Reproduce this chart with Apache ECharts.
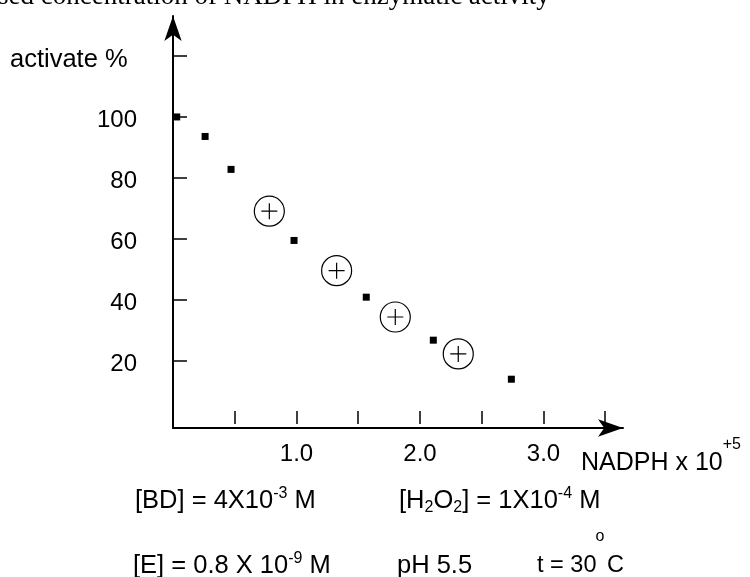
<!DOCTYPE html>
<html>
<head>
<meta charset="utf-8">
<script src="https://cdn.jsdelivr.net/npm/echarts@6.0.0/dist/echarts.min.js"></script>
<style>
html, body { margin: 0; padding: 0; background: #fff; }
#chart { width: 750px; height: 577px; }
</style>
</head>
<body>
<div id="chart"></div>
<script>
// values
let squareX = [0.03, 0.26, 0.47, 0.98, 1.565, 2.108, 2.74]
let squareY = [100, 93.6, 82.8, 59.5, 40.9, 26.8, 14]
let circleX = [0.78, 1.325, 1.80, 2.31]
let circleY = [69.1, 49.6, 34.4, 22.3]
let xTicks = [0.5, 1.0, 1.5, 2.0, 2.5, 3.0, 3.5]
let xLabels = [1.0, 2.0, 3.0]
let yTicks = [20, 40, 60, 80, 100, 120]
let yLabels = [20, 40, 60, 80, 100]

let sans = '"Liberation Sans", Arial, sans-serif'
let serif = '"Liberation Serif", "Times New Roman", serif'
let circlePlus = 'path://M0,15A15,15,0,1,1,30,15A15,15,0,1,1,0,15ZM7,15L23,15M15,7L15,23'

function richStyle(size) {
    return {
        m: { fontSize: size, fontFamily: sans, color: '#000', lineHeight: 30 },
        sup: { fontSize: 16, fontFamily: sans, color: '#000', lineHeight: 16, verticalAlign: 'top' },
        sub: { fontSize: 16, fontFamily: sans, color: '#000', lineHeight: 16, verticalAlign: 'bottom' }
    }
}

function note(x, y, text, size) {
    return {
        type: 'text', x: x, y: y,
        style: { text: text, rich: richStyle(size || 25.5), align: 'left', verticalAlign: 'middle' }
    }
}

let myChart = echarts.init(document.getElementById('chart'))
let option = {
    animation: false,
    backgroundColor: '#fff',
    grid: {
        left: 173,
        right: 127,
        top: 16,
        bottom: 149,
        outerBoundsMode: 'none'
    },
    xAxis: [{
        type: 'value',
        position: 'bottom',
        min: 0,
        max: 3.644,
        splitLine: { show: false },
        axisLine: {
            show: true,
            onZero: false,
            symbol: ['none', 'arrow'],
            symbolSize: [13, 25],
            lineStyle: { color: '#000', width: 2 }
        },
        axisTick: { show: false },
        axisLabel: {
            customValues: xLabels,
            formatter: v => v.toFixed(1),
            margin: 14,
            color: '#000',
            fontSize: 24,
            fontFamily: sans
        }
    }, {
        type: 'value',
        position: 'bottom',
        offset: -4,
        min: 0,
        max: 3.644,
        splitLine: { show: false },
        axisLine: { show: false, onZero: false },
        axisLabel: { show: false },
        axisTick: {
            customValues: xTicks,
            inside: true,
            length: 13,
            lineStyle: { color: '#000', width: 1.5 }
        }
    }],
    yAxis: {
        type: 'value',
        min: -2,
        max: 133.1,
        splitLine: { show: false },
        axisLine: {
            show: true,
            onZero: false,
            symbol: ['none', 'arrow'],
            symbolSize: [13, 25],
            lineStyle: { color: '#000', width: 2 }
        },
        axisTick: {
            customValues: yTicks,
            inside: true,
            length: 14,
            lineStyle: { color: '#000', width: 1.5 }
        },
        axisLabel: {
            customValues: yLabels,
            margin: 36,
            formatter: v => '{a|' + v + '}',
            rich: {
                a: { fontSize: 24, fontFamily: sans, color: '#000', padding: [6, 0, 0, 0] }
            }
        }
    },
    series: [{
        type: 'scatter',
        xAxisIndex: 0,
        symbol: 'rect',
        symbolSize: 7,
        itemStyle: { color: '#000', opacity: 1 },
        data: squareX.map((x, i) => [x, squareY[i]])
    }, {
        type: 'scatter',
        xAxisIndex: 0,
        symbol: circlePlus,
        symbolSize: 30,
        itemStyle: { color: 'rgba(0,0,0,0)', borderColor: '#000', borderWidth: 1.2, opacity: 1 },
        data: circleX.map((x, i) => [x, circleY[i]])
    }],
    graphic: [
        {
            type: 'text', x: -2, y: -3.5,
            style: { text: 'sed concentration of NADPH in enzymatic activity', font: '27px ' + serif, fill: '#000', verticalAlign: 'middle' }
        },
        {
            type: 'text', x: 10, y: 60,
            style: { text: 'activate %', font: '25.5px ' + sans, fill: '#000', verticalAlign: 'middle' }
        },
        {
            type: 'text', x: 581, y: 463,
            style: {
                text: '{m|NADPH x 10}{sup|+5}',
                rich: {
                    m: { fontSize: 25, fontFamily: sans, color: '#000', lineHeight: 52 },
                    sup: { fontSize: 16, fontFamily: sans, color: '#000', lineHeight: 16, verticalAlign: 'top' }
                },
                verticalAlign: 'middle'
            }
        },
        note(135, 501, '{m|[BD] = 4X10}{sup|-3}{m| M}'),
        note(399, 501, '{m|[H}{sub|2}{m|O}{sub|2}{m|] = 1X10}{sup|-4}{m| M}'),
        note(133, 566, '{m|[E] = 0.8 X 10}{sup|-9}{m| M}'),
        note(397, 566, '{m|pH 5.5}'),
        note(537, 566, '{m|t = 30}', 23.5),
        note(607, 566, '{m|C}', 23.5),
        {
            type: 'text', x: 600, y: 537,
            style: { text: 'o', font: '16px ' + sans, fill: '#000', align: 'center', verticalAlign: 'middle' }
        }
    ]
}
myChart.setOption(option)
window.addEventListener('resize', function() {
    myChart.resize()
})
</script>
</body>
</html>
